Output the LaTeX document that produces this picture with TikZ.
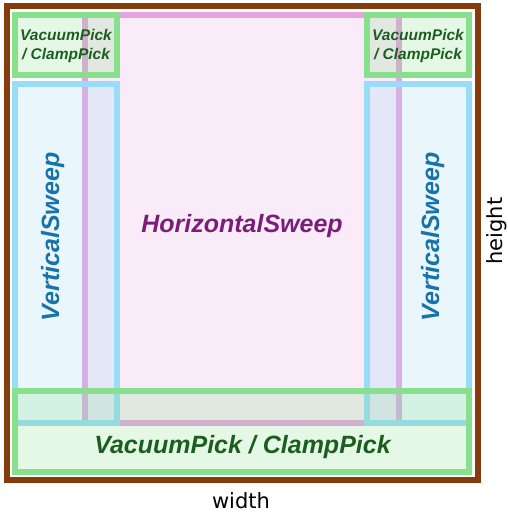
\documentclass[tikz,border=0pt]{standalone}
\usepackage{fontspec}
\setmainfont{Liberation Sans}
\newfontfamily\dimfont{DejaVu Sans}
\usepackage{tikz}

\definecolor{framebrown}{HTML}{843C0C}
\definecolor{pickgreen}{HTML}{88E08C}
\definecolor{sweepblue}{HTML}{99DCF8}
\definecolor{sweeppink}{HTML}{E6A3E0}
\definecolor{picktext}{HTML}{1B5E20}
\definecolor{verttext}{HTML}{1A73A8}
\definecolor{horztext}{HTML}{7B1E7A}

\begin{document}
\begin{tikzpicture}[x=1pt, y=-1pt,
  zone/.style={line width=6pt, fill opacity=0.22},
  zonetext/.style={font=\bfseries\itshape\fontsize{25}{30}\selectfont, inner sep=0pt},
  cornertext/.style={font=\bfseries\itshape\fontsize{15.5}{18.6}\selectfont, align=center, text=picktext, inner sep=0pt},
  dimtext/.style={font=\dimfont\fontsize{21}{25}\selectfont, inner sep=0pt}]

\useasboundingbox (0,0) rectangle (508,514);

% First, the outer frame
\draw[framebrown, line width=6pt] (7,6) rectangle (478,480);

% Then the sweep zones, pink in the middle, blue at both sides
\draw[zone, draw=sweeppink, fill=sweeppink] (85,15) rectangle (399,423);
\draw[zone, draw=sweepblue, fill=sweepblue] (15,84) rectangle (117,423);
\draw[zone, draw=sweepblue, fill=sweepblue] (367,84) rectangle (469,423);

% The pick zones go on top: two corners and the bottom strip
\draw[zone, draw=pickgreen, fill=pickgreen] (15,15) rectangle (117,75);
\draw[zone, draw=pickgreen, fill=pickgreen] (367,15) rectangle (469,75);
\draw[zone, draw=pickgreen, fill=pickgreen] (15,391) rectangle (469,472);

% Zone labels
\node[zonetext, text=horztext, anchor=base] (hsweep) at (242,232) {HorizontalSweep};
\node[zonetext, text=verttext, rotate=90, anchor=base] (vsweepL) at (59,237) {VerticalSweep};
\node[zonetext, text=verttext, rotate=90, anchor=base] (vsweepR) at (439,237) {VerticalSweep};
\node[zonetext, text=picktext, anchor=base] (pickB) at (242.5,453) {VacuumPick / ClampPick};
\node[cornertext] (pickTL) at (66,46) {VacuumPick\\/ ClampPick};
\node[cornertext] (pickTR) at (418,46) {VacuumPick\\/ ClampPick};

% Dimensions
\node[dimtext, anchor=base] (wlabel) at (241,508) {width};
\node[dimtext, rotate=90, anchor=base] (hlabel) at (502,231) {height};

\end{tikzpicture}
\end{document}
